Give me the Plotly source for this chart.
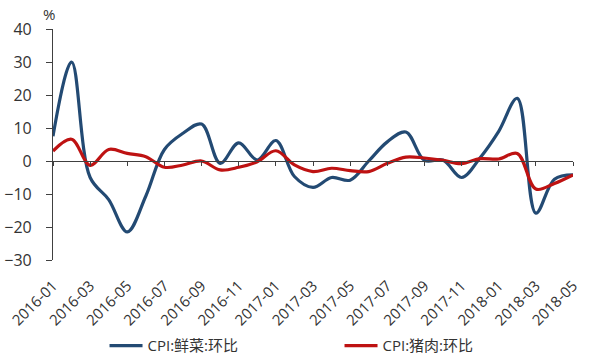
import plotly.graph_objects as go

months = ["2016-01", "2016-02", "2016-03", "2016-04", "2016-05", "2016-06",
          "2016-07", "2016-08", "2016-09", "2016-10", "2016-11", "2016-12",
          "2017-01", "2017-02", "2017-03", "2017-04", "2017-05", "2017-06",
          "2017-07", "2017-08", "2017-09", "2017-10", "2017-11", "2017-12",
          "2018-01", "2018-02", "2018-03", "2018-04", "2018-05"]
veg = [7.5, 30, -5, -11.7, -21.5, -10.6, 3.5, 8.4, 11.2, -0.7, 5.5, 0.3,
       6.2, -4.7, -8, -5, -5.8, 0, 5.8, 8.8, 0.2, 0.3, -5, 1,
       9, 19, -15.8, -5.5, -4.2]
pork = [3, 6.6, -1.3, 3.5, 2.3, 1.3, -1.9, -1.2, 0, -2.7, -1.9, -0.2,
        3.1, -1.2, -3.2, -2.2, -2.9, -3.2, -0.7, 1.2, 0.9, 0.2, -0.8, 0.7,
        0.6, 2.3, -8.5, -6.8, -4.2]
name_veg = "CPI:鲜菜:环比"
name_pork = "CPI:猪肉:环比"
tick_labels = months[::2]
y_ticks = [-30, -20, -10, 0, 10, 20, 30, 40]

FONT = "Open Sans, Noto Sans CJK SC, sans-serif"
TXT = "#333333"
AX = "#404040"

fig = go.Figure()
fig.add_trace(go.Scatter(x=months, y=veg, name=name_veg, mode="lines",
                         line=dict(color="#234A73", width=3.2, shape="spline", smoothing=1)))
fig.add_trace(go.Scatter(x=months, y=pork, name=name_pork, mode="lines",
                         line=dict(color="#BE1212", width=3.2, shape="spline", smoothing=1)))
# helper trace for the zero-line axis
fig.add_trace(go.Scatter(x=months, y=[None] * len(months), xaxis="x2", showlegend=False,
                         hoverinfo="skip", mode="lines"))

n = len(months)
fig.update_layout(
    width=600, height=361,
    margin=dict(l=53, r=27, t=29, b=101, autoexpand=False),
    paper_bgcolor="white", plot_bgcolor="white",
    font=dict(family=FONT, color=TXT, size=14),
    showlegend=True,
    legend=dict(orientation="h", x=0.551, xanchor="center", yref="container",
                y=0.042, yanchor="middle", font=dict(size=15, color=TXT),
                entrywidth=187, itemwidth=33, bgcolor="rgba(0,0,0,0)"),
    xaxis=dict(type="category", range=[0, n - 1], tickvals=tick_labels, ticktext=tick_labels,
               tickangle=-45, showline=False, ticks="", showgrid=False, zeroline=False,
               tickfont=dict(size=15, color=TXT), ticklabelstandoff=13),
    xaxis2=dict(type="category", overlaying="x", anchor="free", position=3 / 7, side="bottom",
                range=[0, n - 1], tickvals=tick_labels, showticklabels=False,
                showline=True, linecolor=AX, linewidth=1.2, ticks="outside", ticklen=4,
                tickcolor=AX, tickwidth=1.2, showgrid=False, zeroline=False),
    yaxis=dict(range=[-30, 40], tickvals=y_ticks, showline=True, linecolor=AX, linewidth=1.2,
               ticks="outside", ticklen=6, tickcolor=AX, tickwidth=1.2, showgrid=False,
               zeroline=False, tickfont=dict(size=16, color=TXT), ticklabelstandoff=11),
    annotations=[dict(text="%", xref="paper", yref="paper", x=-0.008, y=1.065,
                      xanchor="center", yanchor="middle", showarrow=False,
                      font=dict(size=15, color=TXT))],
)

fig.write_html("out.html")
